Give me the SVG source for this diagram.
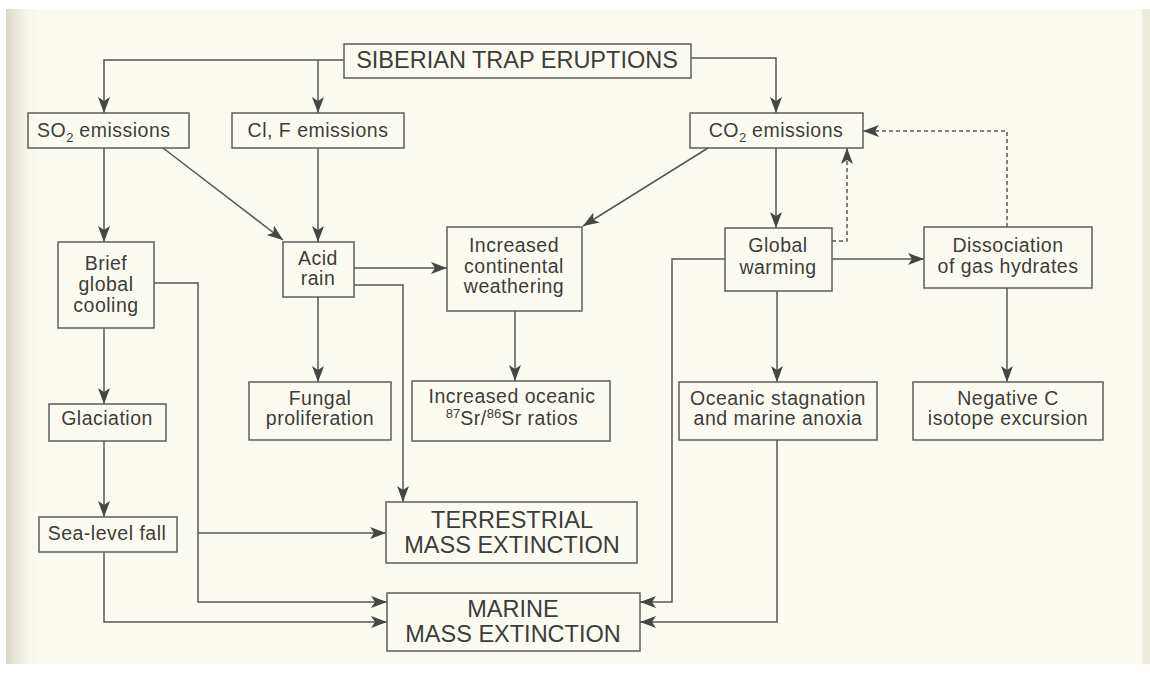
<svg xmlns="http://www.w3.org/2000/svg" width="1150" height="674" viewBox="0 0 1150 674">
<defs>
<linearGradient id="leftShade" x1="0" y1="0" x2="1" y2="0">
<stop offset="0" stop-color="#d9d4c6"/>
<stop offset="1" stop-color="#fcfbf1" stop-opacity="0"/>
</linearGradient>
<marker id="ah" viewBox="0 0 16 12" refX="16" refY="6" markerWidth="16" markerHeight="12" markerUnits="userSpaceOnUse" orient="auto">
<path d="M0,0 L16,6 L0,12 L4,6 Z" fill="#454545"/>
</marker>
</defs>
<style>
.box{fill:none;stroke:#5e5e5e;stroke-width:1.5}
.t{font-family:"Liberation Sans",Arial,sans-serif;font-size:19.5px;letter-spacing:0.5px;fill:#3d3d3d;text-anchor:middle}
.big{font-size:23.5px;letter-spacing:0}
.c{fill:none;stroke:#575757;stroke-width:1.5}
.a{marker-end:url(#ah)}
.d{stroke-dasharray:4,3}
.sub{font-size:13px;letter-spacing:0}
</style>
<rect x="0" y="0" width="1150" height="674" fill="#ffffff"/>
<rect x="6" y="9" width="1144" height="655" fill="#fcfbf1"/>
<rect x="6" y="9" width="36" height="655" fill="url(#leftShade)"/>
<rect x="1142" y="9" width="8" height="655" fill="#efebdd"/>

<g id="connectors">
<path class="c a" d="M344,60 H104 V113"/>
<path class="c a" d="M318,60 V113"/>
<path class="c a" d="M691,58 H776 V113"/>
<path class="c a" d="M104,148 V242"/>
<path class="c a" d="M163,148 L283,240"/>
<path class="c a" d="M318,148 V242"/>
<path class="c a" d="M708,148 L583,226"/>
<path class="c a" d="M776,148 V228"/>
<path class="c d a" d="M1007,227 V131 H863"/>
<path class="c d a" d="M832,241 H847 V148"/>
<path class="c a" d="M104,328 V404"/>
<path class="c a" d="M154,283 H198 V602 H387"/>
<path class="c a" d="M198,533 H386"/>
<path class="c a" d="M104,441 V517"/>
<path class="c a" d="M104,552 V622 H387"/>
<path class="c a" d="M354,268 H447"/>
<path class="c a" d="M354,285 H403 V502"/>
<path class="c a" d="M318,297 V382"/>
<path class="c a" d="M515,311 V381"/>
<path class="c a" d="M725,259 H672 V602 H640"/>
<path class="c a" d="M832,259 H924"/>
<path class="c a" d="M777,291 V382"/>
<path class="c a" d="M777,440 V622 H640"/>
<path class="c a" d="M1007,288 V382"/>
</g>

<g id="siberian">
<rect class="box" x="344" y="44" width="347" height="34"/>
<text class="t big" x="517" y="68">SIBERIAN TRAP ERUPTIONS</text>
</g>
<g id="so2">
<rect class="box" x="28" y="113" width="161" height="35"/>
<text class="t" x="37" y="137" style="text-anchor:start">SO<tspan class="sub" dy="5">2</tspan><tspan dy="-5"> emissions</tspan></text>
</g>
<g id="clf">
<rect class="box" x="232" y="113" width="172" height="35"/>
<text class="t" x="318" y="137">Cl, F emissions</text>
</g>
<g id="co2">
<rect class="box" x="690" y="113" width="173" height="35"/>
<text class="t" x="776" y="137">CO<tspan class="sub" dy="5">2</tspan><tspan dy="-5"> emissions</tspan></text>
</g>
<g id="cooling">
<rect class="box" x="58" y="242" width="96" height="86"/>
<text class="t" x="106" y="270">Brief</text>
<text class="t" x="106" y="291">global</text>
<text class="t" x="106" y="312">cooling</text>
</g>
<g id="acidrain">
<rect class="box" x="283" y="242" width="71" height="55"/>
<text class="t" x="318" y="265">Acid</text>
<text class="t" x="318" y="285">rain</text>
</g>
<g id="weathering">
<rect class="box" x="447" y="227" width="135" height="84"/>
<text class="t" x="514" y="252">Increased</text>
<text class="t" x="514" y="273">continental</text>
<text class="t" x="514" y="293">weathering</text>
</g>
<g id="warming">
<rect class="box" x="725" y="228" width="107" height="63"/>
<text class="t" x="778" y="252">Global</text>
<text class="t" x="778" y="274">warming</text>
</g>
<g id="hydrates">
<rect class="box" x="924" y="227" width="168" height="61"/>
<text class="t" x="1008" y="252">Dissociation</text>
<text class="t" x="1008" y="273">of gas hydrates</text>
</g>
<g id="glaciation">
<rect class="box" x="49" y="404" width="117" height="37"/>
<text class="t" x="107" y="425">Glaciation</text>
</g>
<g id="fungal">
<rect class="box" x="249" y="382" width="142" height="58"/>
<text class="t" x="320" y="405">Fungal</text>
<text class="t" x="320" y="425">proliferation</text>
</g>
<g id="sr">
<rect class="box" x="412" y="381" width="198" height="60"/>
<text class="t" x="512" y="403">Increased oceanic</text>
<text class="t" x="512" y="425"><tspan class="sub" dy="-7">87</tspan><tspan dy="7">Sr/</tspan><tspan class="sub" dy="-7">86</tspan><tspan dy="7">Sr ratios</tspan></text>
</g>
<g id="anoxia">
<rect class="box" x="679" y="382" width="198" height="58"/>
<text class="t" x="778" y="405">Oceanic stagnation</text>
<text class="t" x="778" y="425">and marine anoxia</text>
</g>
<g id="negc">
<rect class="box" x="913" y="382" width="190" height="58"/>
<text class="t" x="1008" y="405">Negative C</text>
<text class="t" x="1008" y="425">isotope excursion</text>
</g>
<g id="sealevel">
<rect class="box" x="39" y="517" width="138" height="35"/>
<text class="t" x="107" y="540">Sea-level fall</text>
</g>
<g id="terrestrial">
<rect class="box" x="386" y="502" width="251" height="61"/>
<text class="t big" x="512" y="528">TERRESTRIAL</text>
<text class="t big" x="512" y="553">MASS EXTINCTION</text>
</g>
<g id="marine">
<rect class="box" x="387" y="593" width="253" height="58"/>
<text class="t big" x="513" y="617">MARINE</text>
<text class="t big" x="513" y="642">MASS EXTINCTION</text>
</g>
</svg>
